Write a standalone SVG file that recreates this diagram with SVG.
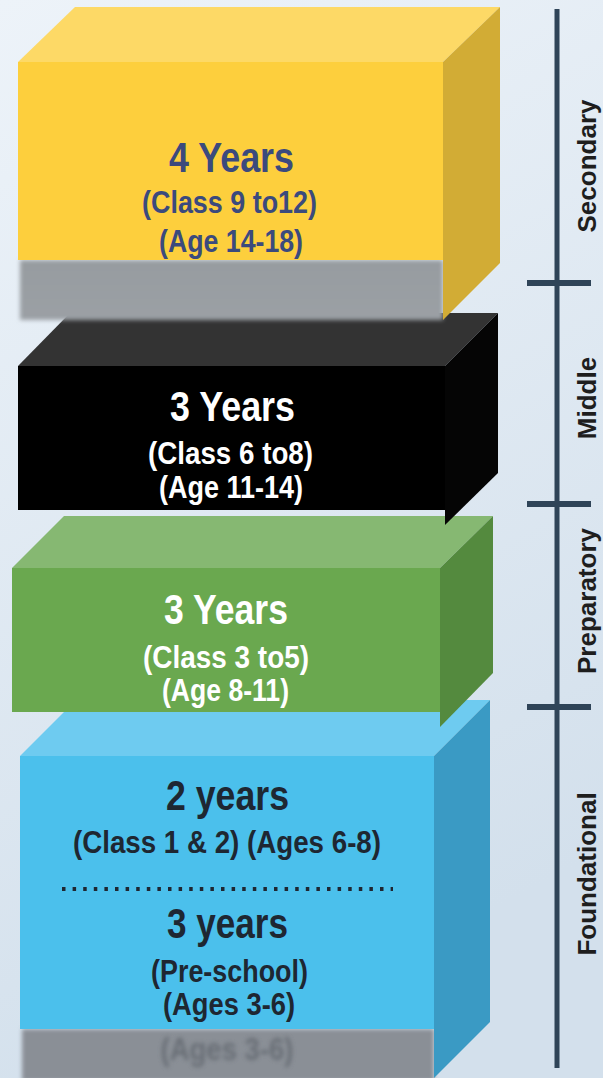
<svg xmlns="http://www.w3.org/2000/svg" width="603" height="1078" viewBox="0 0 603 1078">
<style>
.t{font-family:"Liberation Sans",Arial,sans-serif;font-weight:bold;text-anchor:middle}
.big{font-size:42px}
.sm{font-size:32px}
.ax{font-family:"Liberation Sans",Arial,sans-serif;font-weight:bold;font-size:26px;fill:#1E1E1E;text-anchor:middle}
.axis{stroke:#2F4458;fill:none}
</style>
<defs>
<linearGradient id="bg" x1="0" y1="0" x2="0.3" y2="1">
<stop offset="0" stop-color="#EDF3F9"/>
<stop offset="1" stop-color="#D3E0EC"/>
</linearGradient>
<linearGradient id="gy" x1="0" y1="0" x2="0" y2="1">
<stop offset="0" stop-color="#979CA0"/>
<stop offset="1" stop-color="#9BA0A5"/>
</linearGradient>
<filter id="blur" x="-10%" y="-10%" width="120%" height="140%"><feGaussianBlur stdDeviation="2"/></filter>
<filter id="blur2" x="-10%" y="-30%" width="120%" height="160%"><feGaussianBlur stdDeviation="2.2"/></filter>
</defs>
<rect width="603" height="1078" fill="url(#bg)"/>

<g id="foundational-box">
<polygon points="20,756 76,700 490,700 434,756" fill="#6ECBF0"/>
<rect x="22" y="1029" width="412" height="52" fill="#8A8F96" filter="url(#blur)"/>
<text class="t sm" x="227" y="1060" textLength="133" lengthAdjust="spacingAndGlyphs" fill="#656B72" opacity="0.9" filter="url(#blur2)">(Ages 3-6)</text>
<rect x="20" y="756" width="414" height="273" fill="#4BC0EC"/>
<polygon points="434,756 490,700 490,1022 434,1078" fill="#3A9AC4"/>
<g fill="#1E2732">
<text class="t big" x="227.5" y="810" textLength="123" lengthAdjust="spacingAndGlyphs">2 years</text>
<text class="t sm" x="227" y="853" textLength="308" lengthAdjust="spacingAndGlyphs">(Class 1 &amp; 2) (Ages 6-8)</text>
<text class="t big" x="227.5" y="938" textLength="121" lengthAdjust="spacingAndGlyphs">3 years</text>
<text class="t sm" x="229.5" y="982" textLength="157" lengthAdjust="spacingAndGlyphs">(Pre-school)</text>
<text class="t sm" x="229" y="1015" textLength="132" lengthAdjust="spacingAndGlyphs">(Ages 3-6)</text>
</g>
<line x1="62" y1="889" x2="393" y2="889" stroke="#1E2732" stroke-width="4" stroke-dasharray="3.5 7.1"/>
</g>

<g id="preparatory-box">
<polygon points="12,568 64,516 493,516 440,568" fill="#86B872"/>
<rect x="12" y="568" width="428" height="144" fill="#6AA84F"/>
<polygon points="440,568 493,516 493,673 440,727" fill="#548A3E"/>
<g fill="#FFFFFF">
<text class="t big" x="226" y="624" textLength="124" lengthAdjust="spacingAndGlyphs">3 Years</text>
<text class="t sm" x="226" y="668" textLength="166" lengthAdjust="spacingAndGlyphs">(Class 3 to5)</text>
<text class="t sm" x="225.5" y="701" textLength="127" lengthAdjust="spacingAndGlyphs">(Age 8-11)</text>
</g>
</g>

<g id="middle-box">
<polygon points="18,366 70,313 498,313 445,366" fill="#333333"/>
<rect x="18" y="366" width="427" height="144" fill="#000000"/>
<polygon points="445,366 498,313 498,473 445,525" fill="#050505"/>
<g fill="#FFFFFF">
<text class="t big" x="232.5" y="421" textLength="125" lengthAdjust="spacingAndGlyphs">3 Years</text>
<text class="t sm" x="230.5" y="464" textLength="165" lengthAdjust="spacingAndGlyphs">(Class 6 to8)</text>
<text class="t sm" x="231" y="498" textLength="144" lengthAdjust="spacingAndGlyphs">(Age 11-14)</text>
</g>
</g>

<g id="secondary-box">
<polygon points="18,62 75,7 500,7 443,62" fill="#FDD966"/>
<rect x="20" y="260" width="423" height="60" fill="url(#gy)" filter="url(#blur)"/>
<rect x="18" y="62" width="425" height="198" fill="#FDCF3D"/>
<polygon points="443,62 500,7 500,263 443,320" fill="#D2AC35"/>
<g fill="#3B4A7D">
<text class="t big" x="231.5" y="172" textLength="125" lengthAdjust="spacingAndGlyphs">4 Years</text>
<text class="t sm" x="229.5" y="213" textLength="175" lengthAdjust="spacingAndGlyphs">(Class 9 to12)</text>
<text class="t sm" x="231" y="252" textLength="144" lengthAdjust="spacingAndGlyphs">(Age 14-18)</text>
</g>
</g>

<g id="connectors">
<line class="axis" x1="557" y1="9" x2="557" y2="1068" stroke-width="5"/>
<line class="axis" x1="527" y1="283" x2="591" y2="283" stroke-width="6"/>
<line class="axis" x1="527" y1="504" x2="591" y2="504" stroke-width="6"/>
<line class="axis" x1="527" y1="707" x2="591" y2="707" stroke-width="6"/>
</g>

<g id="labels">
<text class="ax" transform="translate(596,166) rotate(-90)">Secondary</text>
<text class="ax" transform="translate(596,398) rotate(-90)">Middle</text>
<text class="ax" transform="translate(596,601) rotate(-90)">Preparatory</text>
<text class="ax" transform="translate(596,874) rotate(-90)">Foundational</text>
</g>
</svg>
